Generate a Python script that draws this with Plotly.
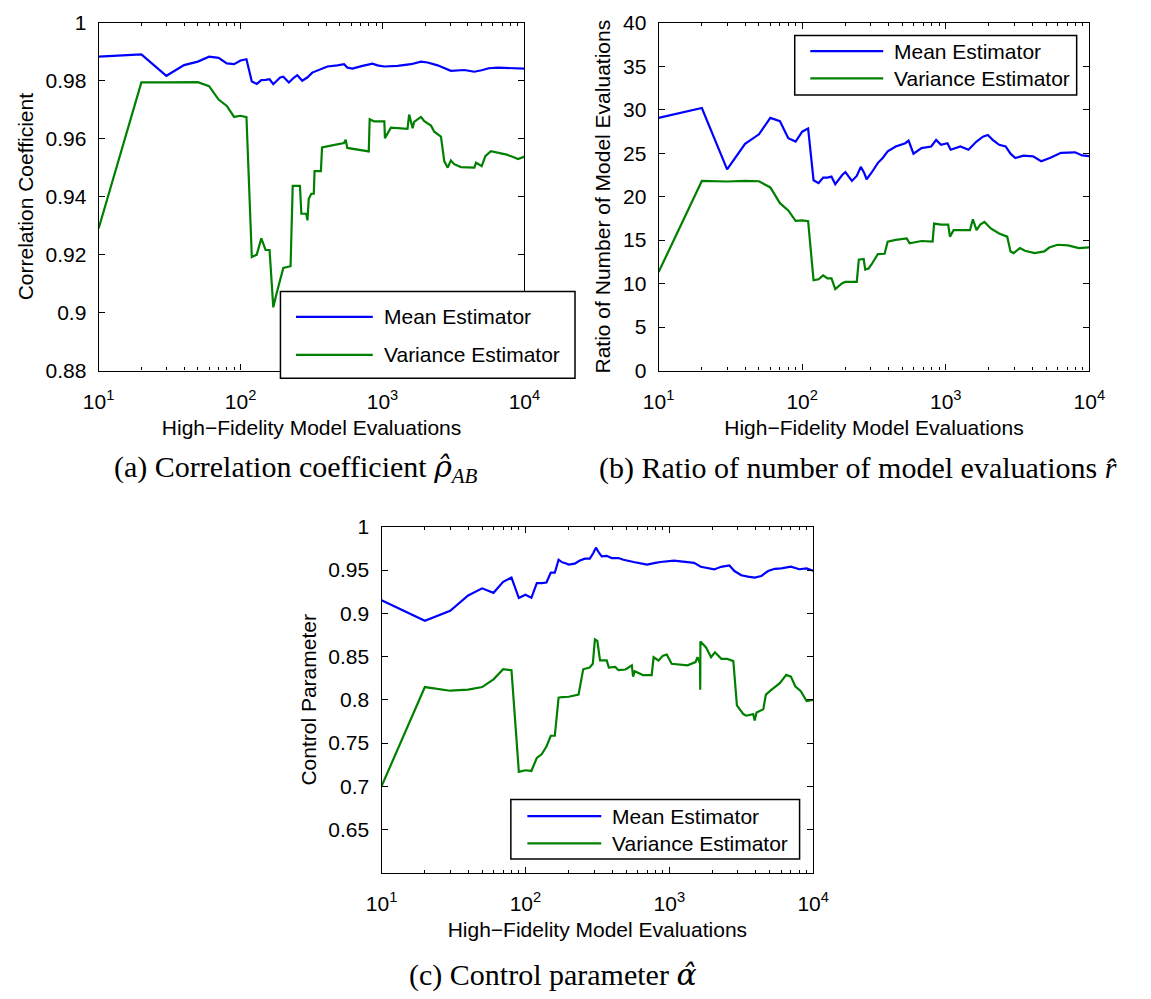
import plotly.graph_objects as go

W, H = 1151, 999

# ---------------- data ----------------
a_mean_n = [10, 20, 30, 40, 50, 60, 70, 80, 90, 100, 110, 120, 130, 140, 150, 160, 170, 180, 190, 200,
            219, 238, 251, 272, 295, 320, 368, 409, 481, 536, 566, 614, 722, 850, 922, 1027, 1276, 1585,
            1865, 2077, 2445, 2725, 3030, 3770, 4430, 5000, 5600, 6500, 7500, 8500, 10000]
a_mean_v = [0.9883, 0.9891, 0.9817, 0.9854, 0.9866, 0.9883, 0.9879, 0.9860, 0.9857, 0.9870, 0.9874,
            0.9797, 0.9789, 0.9802, 0.9803, 0.9805, 0.9788, 0.9800, 0.9811, 0.9814, 0.9794, 0.9811,
            0.9819, 0.9800, 0.9811, 0.9828, 0.9840, 0.9849, 0.9853, 0.9857, 0.9845, 0.9842, 0.9851,
            0.9859, 0.9853, 0.9849, 0.9851, 0.9857, 0.9866, 0.9863, 0.9853, 0.9842, 0.9834, 0.9837,
            0.9831, 0.9836, 0.9843, 0.9845, 0.9844, 0.9845, 0.9842]

a_var_n = [10, 20, 30, 40, 50, 60, 70, 80, 90, 100, 110, 120, 130, 140, 150, 160, 170, 180, 190, 200,
           225, 233, 262, 268, 290, 296, 302, 315, 328, 332, 368, 375, 450, 535, 550, 565, 800, 812,
           870, 1030, 1040, 1145, 1500, 1540, 1630, 1670, 1865, 1970, 2195, 2315, 2580, 2725, 2880,
           3030, 3200, 3570, 4440, 4560, 5000, 5300, 5800, 6500, 7500, 8500, 9000, 10000]
a_var_v = [0.929, 0.9794, 0.9794, 0.9795, 0.9795, 0.9781, 0.9735, 0.9713, 0.9675, 0.9679, 0.9674,
           0.9192, 0.9200, 0.9256, 0.9216, 0.9216, 0.9018, 0.9069, 0.9114, 0.9154, 0.9160, 0.9437,
           0.9437, 0.9341, 0.9341, 0.9318, 0.9392, 0.9410, 0.9410, 0.9488, 0.9488, 0.9570, 0.9578,
           0.9585, 0.9596, 0.9568, 0.9556, 0.9667, 0.9660, 0.9660, 0.9602, 0.9638, 0.9634, 0.9683,
           0.9636, 0.9658, 0.9675, 0.9660, 0.9645, 0.9624, 0.9607, 0.9522, 0.9500, 0.9525, 0.9512,
           0.9502, 0.9500, 0.9517, 0.9505, 0.9540, 0.9557, 0.9552, 0.9545, 0.9535, 0.9530, 0.9538]

b_mean_n = [10, 20, 30, 40, 50, 60, 70, 80, 90, 100, 110, 120, 130, 140, 150, 160, 170, 180, 190, 200,
            222, 240, 256, 270, 281, 304, 337, 364, 394, 448, 523, 551, 596, 678, 792, 857, 927, 1028,
            1082, 1264, 1439, 1638, 1816, 1963, 2124, 2356, 2614, 2826, 3055, 3478, 4060, 4620, 5360,
            6350, 7960, 8910, 10000]
b_mean_v = [29.06, 30.19, 23.13, 26.08, 27.17, 29.06, 28.68, 26.72, 26.34, 27.47, 27.85, 21.89, 21.55,
            22.19, 22.19, 22.30, 21.43, 22.00, 22.49, 22.83, 21.81, 22.38, 23.43, 22.75, 22.00, 22.75,
            23.89, 24.45, 25.20, 25.77, 26.15, 26.45, 24.94, 25.58, 25.77, 26.53, 25.96, 26.15, 25.40,
            25.77, 25.40, 26.34, 26.90, 27.09, 26.53, 25.96, 25.77, 24.94, 24.45, 24.72, 24.64, 24.08,
            24.48, 25.04, 25.10, 24.74, 24.66]

b_var_n = [10, 20, 30, 40, 50, 60, 70, 80, 90, 100, 110, 120, 130, 140, 150, 160, 170, 180, 190, 200,
           240, 248, 268, 275, 290, 304, 337, 375, 394, 448, 535, 560, 678, 810, 830, 927, 1040, 1070,
           1135, 1475, 1545, 1638, 1740, 1860, 2060, 2356, 2680, 2826, 2970, 3290, 3560, 4160, 4860,
           5260, 6000, 7110, 8440, 10000]
b_var_v = [11.32, 21.81, 21.74, 21.81, 21.77, 21.06, 19.25, 18.42, 17.21, 17.28, 17.17, 10.38, 10.49,
           10.94, 10.60, 10.60, 9.36, 9.66, 10.04, 10.19, 10.20, 12.75, 12.83, 11.62, 11.74, 12.20,
           13.40, 13.43, 14.83, 15.02, 15.20, 14.64, 14.90, 14.83, 16.90, 16.79, 16.79, 15.40, 16.15,
           16.15, 17.40, 16.15, 16.79, 17.10, 16.34, 15.77, 15.40, 13.70, 13.51, 14.08, 13.77, 13.51,
           13.70, 14.15, 14.47, 14.40, 14.09, 14.16]

c_mean_n = [10, 20, 30, 40, 50, 60, 70, 80, 90, 100, 110, 120, 130, 140, 150, 160, 170, 180, 190, 200,
            220, 239, 259, 280, 296, 309, 326, 339, 367, 398, 443, 480, 565, 629, 700, 801, 868, 1077,
            1232, 1486, 1655, 1845, 2053, 2287, 2616, 2836, 3160, 3518, 3920, 4360, 4857, 5408, 6000,
            7000, 8000, 9000, 10000]
c_mean_v = [0.915, 0.8914, 0.903, 0.9207, 0.9289, 0.9237, 0.9365, 0.9414, 0.9177, 0.9214, 0.918,
            0.935, 0.935, 0.9357, 0.947, 0.947, 0.962, 0.959, 0.958, 0.9564, 0.9575, 0.961, 0.9632,
            0.9632, 0.9695, 0.976, 0.9695, 0.9658, 0.9665, 0.9639, 0.9639, 0.962, 0.9594, 0.9583,
            0.9564, 0.9583, 0.9594, 0.961, 0.960, 0.9583, 0.9538, 0.9526, 0.9508, 0.9538, 0.9553,
            0.9489, 0.944, 0.9425, 0.9414, 0.9432, 0.9489, 0.9515, 0.952, 0.954, 0.951, 0.952, 0.9492]

c_var_n = [10, 20, 30, 40, 50, 60, 70, 80, 90, 100, 110, 120, 130, 140, 150, 160, 170, 180, 200, 234,
           252, 279, 294, 304, 316, 330, 367, 380, 421, 443, 496, 549, 560, 575, 656, 754, 778, 842,
           903, 960, 1037, 1338, 1520, 1570, 1635, 1640, 1645, 1800, 1950, 2075, 2300, 2520, 2785,
           2950, 3270, 3420, 3830, 3920, 4040, 4500, 4690, 5140, 5860, 6500, 7000, 7500, 8200, 9000,
           10000]
c_var_v = [0.700, 0.8147, 0.8105, 0.8117, 0.8147, 0.8237, 0.8353, 0.8342, 0.7166, 0.7185, 0.7177,
           0.7328, 0.7373, 0.746, 0.7584, 0.7584, 0.8024, 0.8032, 0.8035, 0.806, 0.8353, 0.8372,
           0.8417, 0.8699, 0.868, 0.8455, 0.8455, 0.8372, 0.838, 0.8342, 0.8350, 0.8398, 0.8267,
           0.8330, 0.8286, 0.8286, 0.8492, 0.8455, 0.8511, 0.8523, 0.8417, 0.8398, 0.8436, 0.8492,
           0.8420, 0.8117, 0.8673, 0.8605, 0.8492, 0.8549, 0.8474, 0.8474, 0.8447, 0.7936, 0.7835,
           0.7816, 0.7835, 0.7759, 0.7853, 0.7891, 0.806, 0.8117, 0.8192, 0.8288, 0.8268, 0.8156,
           0.81, 0.7986, 0.7998]

series_names = ["Mean Estimator", "Variance Estimator"]
x_title = "High\u2212Fidelity Model Evaluations"
y_titles = ["Correlation Coefficient", "Ratio of Number of Model Evaluations", "Control Parameter"]
GREEK = "<span style='font-family:DejaVu Serif'><i>{}</i></span>"
captions = ["(a) Correlation coefficient " + GREEK.format("\u03c1\u0302") + "<sub><i>AB</i></sub>",
            "(b) Ratio of number of model evaluations <i>r\u0302</i>",
            "(c) Control parameter " + GREEK.format("\u03b1\u0302")]

x_tickvals = [10, 100, 1000, 10000]
x_ticktext = ["10<sup>1</sup>", "10<sup>2</sup>", "10<sup>3</sup>", "10<sup>4</sup>"]
x_minor = [m * 10 ** d for d in (1, 2, 3) for m in range(2, 10)]

a_yticks = [0.88, 0.9, 0.92, 0.94, 0.96, 0.98, 1]
a_ytext = ["0.88", "0.9", "0.92", "0.94", "0.96", "0.98", "1"]
b_yticks = [0, 5, 10, 15, 20, 25, 30, 35, 40]
b_ytext = [str(v) for v in b_yticks]
c_yticks = [0.65, 0.7, 0.75, 0.8, 0.85, 0.9, 0.95, 1]
c_ytext = ["0.65", "0.7", "0.75", "0.8", "0.85", "0.9", "0.95", "1"]

BLUE = "#0000ff"
GREEN = "#008000"
SANS = "Liberation Sans, Arial, sans-serif"
SERIF = "Liberation Serif, Times New Roman, serif"
FS = 21

# ---------------- layout geometry (pixels) ----------------
def px(x):
    return x / W

def py(y):
    return 1 - y / H

boxes = {  # left, top, right, bottom
    "a": (85, 11, 523, 367),
    "b": (661, 11, 1104, 367),
    "c": (376, 527, 820, 881),
}

fig = go.Figure()

data = [
    ("x", "y", a_mean_n, a_mean_v, a_var_n, a_var_v),
    ("x2", "y2", b_mean_n, b_mean_v, b_var_n, b_var_v),
    ("x3", "y3", c_mean_n, c_mean_v, c_var_n, c_var_v),
]
for xa, ya, mn, mv, vn, vv in data:
    fig.add_trace(go.Scatter(x=mn, y=mv, mode="lines", name=series_names[0], xaxis=xa, yaxis=ya,
                             line=dict(color=BLUE, width=2.2), showlegend=False))
    fig.add_trace(go.Scatter(x=vn, y=vv, mode="lines", name=series_names[1], xaxis=xa, yaxis=ya,
                             line=dict(color=GREEN, width=2.2), showlegend=False))

def xaxis_cfg(box, anchor):
    l, t, r, b = box
    return dict(
        type="log", domain=[px(l), px(r)], range=[1, 4], anchor=anchor,
        tickvals=x_tickvals, ticktext=x_ticktext,
        ticks="inside", ticklen=6, tickwidth=1, tickcolor="black",
        minor=dict(tickvals=x_minor, ticks="inside", ticklen=3, tickwidth=1, tickcolor="black"),
        showline=True, linecolor="black", linewidth=1.2, mirror="ticks",
        showgrid=False, zeroline=False,
        tickfont=dict(family=SANS, size=FS, color="black"),
        ticklabelstandoff=12,
        title=dict(text=x_title, font=dict(family=SANS, size=FS, color="black"), standoff=8),
    )

def yaxis_cfg(box, anchor, rng, tv, tt, title):
    l, t, r, b = box
    return dict(
        domain=[py(b), py(t)], range=rng, anchor=anchor,
        tickvals=tv, ticktext=tt,
        ticks="inside", ticklen=6, tickwidth=1, tickcolor="black",
        showline=True, linecolor="black", linewidth=1.2, mirror="ticks",
        showgrid=False, zeroline=False,
        tickfont=dict(family=SANS, size=FS, color="black"),
        ticklabelstandoff=7,
        title=dict(text=title, font=dict(family=SANS, size=FS, color="black"), standoff=6),
    )

fig.update_layout(
    width=W, height=H, margin=dict(l=0, r=0, t=0, b=0),
    paper_bgcolor="white", plot_bgcolor="white", showlegend=False,
    xaxis=xaxis_cfg(boxes["a"], "y"),
    yaxis=yaxis_cfg(boxes["a"], "x", [0.88, 1.0], a_yticks, a_ytext, y_titles[0]),
    xaxis2=xaxis_cfg(boxes["b"], "y2"),
    yaxis2=yaxis_cfg(boxes["b"], "x2", [0, 40], b_yticks, b_ytext, y_titles[1]),
    xaxis3=xaxis_cfg(boxes["c"], "y3"),
    yaxis3=yaxis_cfg(boxes["c"], "x3", [0.6, 1.0], c_yticks, c_ytext, y_titles[2]),
)

# ---------------- legends (box, sample lines, labels) ----------------
legends = [
    # box (l, t, r, b), sample x0, x1, text x, row ys
    ((272, 286, 575, 375), 288, 367, 376, (312, 351)),
    ((801, 24, 1091, 85), 817, 892, 901, (40, 68)),
    ((509, 806, 806, 867), 526, 602, 611, (823, 851)),
]
shapes = []
annotations = []
for (l, t, r, b), s0, s1, tx, rows in legends:
    shapes.append(dict(type="rect", xref="paper", yref="paper", x0=px(l), x1=px(r), y0=py(b), y1=py(t),
                       fillcolor="white", line=dict(color="black", width=1.5), layer="above"))
    for col, name, ry in zip((BLUE, GREEN), series_names, rows):
        shapes.append(dict(type="line", xref="paper", yref="paper", x0=px(s0), x1=px(s1), y0=py(ry), y1=py(ry),
                           line=dict(color=col, width=2.2), layer="above"))
        annotations.append(dict(text=name, xref="paper", yref="paper", x=px(tx), y=py(ry),
                                xanchor="left", yanchor="middle", showarrow=False,
                                font=dict(family=SANS, size=FS, color="black")))

caption_pos = [(288, 467), (866, 467), (552, 985)]
for cap, (cx, cy) in zip(captions, caption_pos):
    annotations.append(dict(text=cap, xref="paper", yref="paper", x=px(cx), y=py(cy),
                            xanchor="center", yanchor="middle", showarrow=False,
                            font=dict(family=SERIF, size=30, color="black")))

fig.update_layout(shapes=shapes, annotations=annotations)

fig.write_html("out.html")
